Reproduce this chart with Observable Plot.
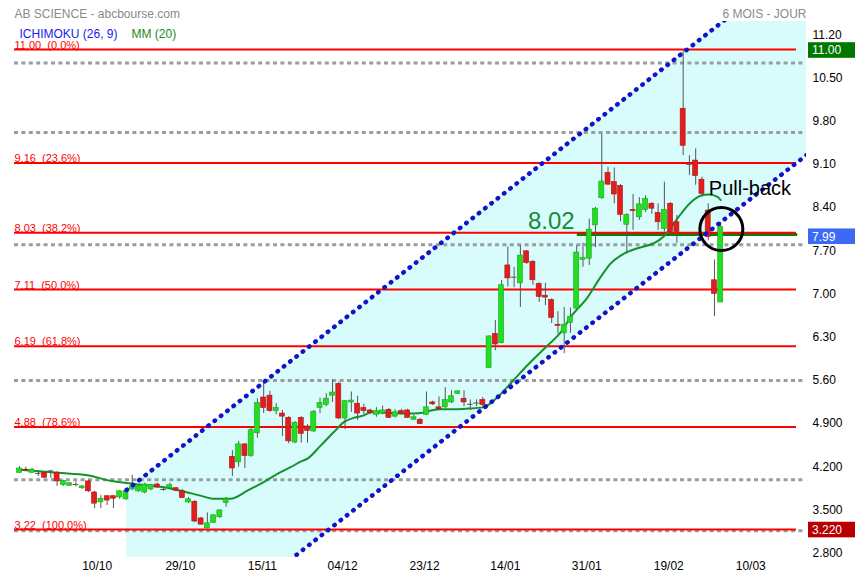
<!DOCTYPE html>
<html><head><meta charset="utf-8">
<script src="https://cdn.jsdelivr.net/npm/d3@7"></script>
<script src="https://cdn.jsdelivr.net/npm/@observablehq/plot@0.6"></script>
<style>
html,body{margin:0;padding:0;background:#fff;}
#chart{width:855px;height:580px;position:relative;}
</style></head><body><div id="chart"></div>
<script>
// ---- Data (daily candles, index = trading day) ----
const opens  = [4.14,4.19,4.14,4.13,4.14,4.17,4.14,3.94,3.93,3.95,3.89,4.00,3.82,3.66,3.76,3.76,3.74,3.71,3.87,3.84,
                3.82,3.87,3.95,3.87,3.89,3.89,3.84,3.66,3.67,3.40,3.24,3.33,3.42,3.65,4.40,4.31,4.60,4.41,4.78,5.36,
                5.39,5.14,5.10,5.03,4.63,5.03,4.89,4.81,5.19,5.24,5.39,5.58,5.02,5.28,5.26,5.19,5.15,5.08,5.10,5.16,
                5.05,5.14,5.15,5.00,5.00,5.08,5.28,5.20,5.20,5.28,5.42,5.34,5.25,5.27,5.32,5.84,6.39,6.24,7.50,7.31,
                7.21,7.73,7.56,7.20,7.01,6.94,6.54,6.40,6.57,6.80,7.59,7.61,8.15,8.59,9.00,8.85,8.79,8.16,8.40,8.28,
                8.40,8.50,8.35,8.09,8.50,8.20,10.04,9.16,9.20,8.89,8.39,7.26,6.90];
const highs  = [4.24,4.23,4.21,4.18,4.16,4.18,4.16,4.02,3.98,3.99,3.93,4.02,3.84,3.77,3.77,3.77,3.85,3.85,4.10,3.93,
                3.97,3.95,3.97,3.91,3.97,3.90,3.87,3.74,3.69,3.42,3.49,3.46,3.54,3.74,4.50,4.65,4.61,4.88,5.34,5.62,
                5.46,5.26,5.15,5.05,4.97,5.05,4.92,5.15,5.35,5.42,5.65,5.61,5.31,5.45,5.38,5.25,5.17,5.20,5.22,5.18,
                5.16,5.17,5.17,5.07,5.02,5.45,5.30,5.37,5.52,5.47,5.47,5.47,5.32,5.32,5.36,6.36,6.61,7.26,7.80,7.47,
                7.82,7.74,7.58,7.22,7.21,6.96,6.75,6.82,6.81,7.82,7.86,8.25,8.44,9.63,9.09,9.08,8.81,8.34,8.65,8.60,
                8.63,8.52,8.50,8.85,8.52,8.31,10.98,9.28,9.39,8.93,8.50,7.59,8.20];
const lows   = [4.13,4.16,4.13,4.08,4.05,4.05,3.92,3.92,3.92,3.91,3.87,3.82,3.56,3.56,3.61,3.56,3.71,3.69,3.85,3.82,
                3.80,3.85,3.89,3.84,3.87,3.84,3.72,3.64,3.33,3.29,3.23,3.32,3.40,3.58,4.08,4.23,4.21,4.39,4.70,5.10,
                5.12,5.08,4.73,4.61,4.61,4.62,4.62,4.79,5.10,5.21,5.28,5.00,4.84,5.12,4.99,5.08,5.08,5.04,5.08,5.02,
                5.03,5.08,5.02,4.99,4.92,5.07,5.23,5.15,5.18,5.26,5.41,5.21,5.15,5.21,5.20,5.83,6.12,6.23,7.15,7.14,
                6.82,7.52,7.18,6.90,6.85,6.56,6.39,6.07,6.40,6.79,7.47,7.50,7.79,8.57,8.80,8.50,8.21,7.70,8.07,8.23,
                8.36,8.33,8.07,8.04,7.97,7.86,9.28,8.96,8.80,8.63,7.90,6.67,6.90];
const closes = [4.21,4.18,4.19,4.13,4.06,4.17,4.00,4.01,3.97,3.95,3.92,3.84,3.64,3.72,3.69,3.72,3.84,3.84,3.92,3.92,
                3.95,3.94,3.90,3.87,3.94,3.85,3.73,3.71,3.35,3.30,3.32,3.45,3.53,3.71,4.21,4.60,4.41,4.83,5.27,5.19,
                5.14,5.19,5.05,4.65,4.95,4.77,4.82,5.13,5.27,5.34,5.44,5.02,5.30,5.31,5.10,5.14,5.11,5.14,5.15,5.03,
                5.12,5.10,5.03,5.04,4.93,5.20,5.25,5.17,5.32,5.38,5.46,5.28,5.25,5.27,5.24,6.35,6.22,7.18,7.29,7.31,
                7.66,7.54,7.26,6.99,6.98,6.65,6.52,6.54,6.67,7.71,7.62,8.08,8.42,8.86,8.81,8.65,8.32,8.32,8.38,8.49,
                8.58,8.42,8.20,8.40,8.04,8.04,9.44,9.13,8.95,8.66,7.96,7.04,8.12];

// MM (20)
const maIdx = [0,6.1,10.9,14.5,18.2,22,25.7,28.9,31,33.7,36.4,39,41.7,43.3,44.9,46,48.1,50.2,51.8,53.4,
               55,56.1,59.3,62,64.1,65.7,67.3,69.3,71.6,74.1,76.4,78.9,81.2,84.3,86.4,88,90.7,92.8,94.4,96.5,
               98.7,101.3,102.9,104.5,105.6,107.2,108.8,110.1,111.5,112];
const maVal = [4.19,4.14,4.10,4.01,3.96,3.92,3.85,3.77,3.72,3.72,3.85,3.99,4.15,4.23,4.32,4.37,4.58,4.80,4.96,5.03,
               5.07,5.12,5.11,5.10,5.11,5.15,5.17,5.17,5.18,5.20,5.37,5.64,5.89,6.20,6.41,6.66,6.98,7.31,7.53,7.69,
               7.78,7.86,7.97,8.18,8.33,8.52,8.63,8.65,8.61,8.56];

// Fibonacci retracement levels
const fibLevels = [11.00, 9.16, 8.03, 7.11, 6.19, 4.88, 3.22];
const fibPct = ["0.0%", "23.6%", "38.2%", "50.0%", "61.8%", "78.6%", "100.0%"];
// gray dotted levels
const grayLevels = [10.78, 9.655, 7.834, 5.635, 4.026, 3.20];

// axis ticks
const yTicks = [11.2, 10.5, 9.8, 9.1, 8.4, 7.7, 7.0, 6.3, 5.6, 4.9, 4.2, 3.5, 2.8];
const xTickIdx = [12.4, 25.7, 38.8, 51.6, 64.7, 77.6, 90.6, 103.7, 116.8];
const xTickLabels = ["10/10","29/10","15/11","04/12","23/12","14/01","31/01","19/02","10/03"];

// trend channel anchors (index, price)
const channelIdx = [17.1, 125.7];
const channelUpper = [3.86, 12.52];
const channelLower = [0.65, 9.29];

// annotations
const supportLevel = 8.0, supportText = "8.02", supportFrom = 89.1, supportTo = 124.3;
const supportLabelPos = {i: 81.2, p: 8.22};
const pullbackPos = {i: 110.1, p: 8.74, text: "Pull-back"};
const circlePos = {i: 112.1, p: 8.09};
const lastPrice = 7.99;
const lineStart = -0.8, redEnd = 124.1, grayEnd = 125.2;

// ---- build tables ----
const candles = opens.map((o, i) => ({i, open: o, high: highs[i], low: lows[i], close: closes[i]}));
const up = candles.filter(d => d.close > d.open);
const down = candles.filter(d => d.close < d.open);
const doji = candles.filter(d => d.close === d.open);
const ma = maIdx.map((x, k) => ({i: x, v: maVal[k]}));
const channel = channelIdx.map((x, k) => ({i: x, upper: channelUpper[k], lower: channelLower[k]}));
const yFmt = v => v >= 5 ? v.toFixed(2) : v.toFixed(3);
const FONT = "'Liberation Sans', Arial, sans-serif";

const chart = Plot.plot({
  width: 855, height: 580,
  marginTop: 21, marginRight: 49, marginBottom: 23, marginLeft: 14,
  x: {domain: [-0.8, 125.7], axis: null},
  y: {domain: [2.767, 11.454], axis: null},
  style: {fontFamily: FONT, fontSize: "12px", background: "#fff", overflow: "visible"},
  marks: [
    Plot.areaY(channel, {x: "i", y1: "lower", y2: "upper", fill: "#d8fcfc", clip: true}),
    Plot.ruleY(grayLevels, {y: d => d, x1: lineStart, x2: grayEnd, stroke: "#979e9e", strokeWidth: 3, strokeDasharray: "4 3.4"}),
    Plot.ruleY([supportLevel], {y: d => d, x1: supportFrom, x2: supportTo, stroke: "#0a800a", strokeWidth: 3}),
    Plot.ruleY(fibLevels, {y: d => d, x1: lineStart, x2: redEnd, stroke: "#ff0000", strokeWidth: 2}),
    Plot.text(fibLevels, {y: d => d, frameAnchor: "left", textAnchor: "start",
      text: (d, k) => `${d.toFixed(2)}\u00a0\u00a0(${fibPct[k]})`, fill: "#ff0000", fontSize: 11, dy: -4.5}),
    Plot.line(ma, {x: "i", y: "v", stroke: "#15912a", strokeWidth: 2, curve: "monotone-x"}),
    Plot.ruleX(candles, {x: "i", y1: "low", y2: "high", stroke: "#555", strokeWidth: 1}),
    Plot.rect(up, {x1: d => d.i - 0.4, x2: d => d.i + 0.4, y1: "open", y2: "close", fill: "#22dd22", stroke: "#14a814", strokeWidth: 0.6}),
    Plot.rect(down, {x1: d => d.i - 0.4, x2: d => d.i + 0.4, y1: "open", y2: "close", fill: "#e01e1e", stroke: "#b01212", strokeWidth: 0.6}),
    Plot.ruleY(doji, {y: "open", x1: d => d.i - 0.45, x2: d => d.i + 0.45, stroke: "#555", strokeWidth: 1}),
    Plot.line(channel, {x: "i", y: "upper", stroke: "#1212c8", strokeWidth: 4.5, strokeDasharray: "0.5 7.5", strokeLinecap: "round", clip: true}),
    Plot.line(channel, {x: "i", y: "lower", stroke: "#1212c8", strokeWidth: 4.5, strokeDasharray: "0.5 7.5", strokeLinecap: "round", clip: true}),
    Plot.dot([circlePos], {x: "i", y: "p", r: 21.5, stroke: "#000", strokeWidth: 3, fill: "none"}),
    Plot.text([supportLabelPos], {x: "i", y: "p", text: () => supportText, textAnchor: "start", fontSize: 24, fill: "#178a38"}),
    Plot.text([pullbackPos], {x: "i", y: "p", text: "text", textAnchor: "start", fontSize: 20, fill: "#000"}),
    // axes as text
    Plot.text(xTickIdx, {x: d => d, frameAnchor: "bottom", dy: 12.5, text: (d, k) => xTickLabels[k], fontSize: 12, fill: "#000"}),
    Plot.text(yTicks, {y: d => d, frameAnchor: "right", dx: 6, dy: -2.4, textAnchor: "start", text: d => yFmt(d), fontSize: 12, fill: "#000"}),
    // header
    Plot.text(["AB SCIENCE - abcbourse.com"], {frameAnchor: "top-left", text: d => d, textAnchor: "start", dy: -11.8, fontSize: 12, fill: "#8a8a8a"}),
    Plot.text(["6 MOIS - JOUR"], {frameAnchor: "top-right", text: d => d, textAnchor: "end", dy: -11.8, fontSize: 12, fill: "#8a8a8a"}),
    Plot.text(["ICHIMOKU (26, 9)"], {frameAnchor: "top-left", text: d => d, textAnchor: "start", dx: 5, dy: 7.5, fontSize: 12, fill: "#1a1aee"}),
    Plot.text(["MM (20)"], {frameAnchor: "top-left", text: d => d, textAnchor: "start", dx: 117, dy: 7.5, fontSize: 12, fill: "#168a1e"})
  ]
});

// price tags in right margin, positioned with the plot's y scale
const yS = chart.scale("y");
const tags = [
  {v: 11.00, label: "11.00", fill: "#007800", off: 1},
  {v: lastPrice, label: "7.99", fill: "#3d6af5", off: 1.5},
  {v: 3.22, label: "3.220", fill: "#b80000", off: 0.5}
];
const g = d3.select(chart).append("g").attr("text-anchor", "start");
for (const t of tags) {
  const cy = yS.apply(t.v) + t.off;
  g.append("rect").attr("x", 808).attr("y", cy - 7.8).attr("width", 47).attr("height", 15.6).attr("fill", t.fill);
  g.append("text").attr("x", 812).attr("y", cy + 4.3).attr("fill", "#fff").attr("text-anchor", "start")
    .attr("font-size", 12).attr("font-family", FONT).text(t.label);
}
document.getElementById("chart").appendChild(chart);
</script>
</body></html>
